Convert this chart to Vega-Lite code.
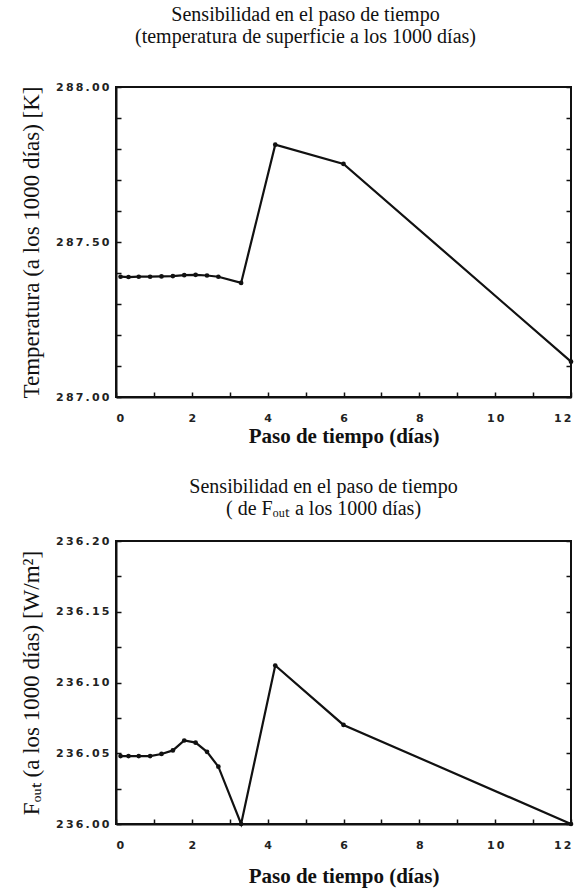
{
  "$schema": "https://vega.github.io/schema/vega-lite/v6.json",
  "background": "white",
  "padding": {"left": 19, "top": 4, "right": 1, "bottom": 4},
  "spacing": 29,
  "config": {
    "view": {"stroke": "#111", "strokeWidth": 2},
    "axis": {
      "grid": false,
      "domainColor": "#111",
      "domainWidth": 2,
      "tickColor": "#111",
      "tickWidth": 1.5,
      "tickSize": -5,
      "labelFont": "DejaVu Sans",
      "labelFontWeight": "bold",
      "labelFontSize": 11,
      "labelColor": "#222",
      "titleFont": "Liberation Serif",
      "titleColor": "#111"
    },
    "title": {
      "font": "Liberation Serif",
      "fontSize": 20,
      "fontWeight": "normal",
      "color": "#111",
      "subtitleFont": "Liberation Serif",
      "subtitleFontSize": 20,
      "subtitleColor": "#111",
      "subtitlePadding": 2
    }
  },
  "datasets": {
    "temperatura": [
      {"paso": 0.12, "valor": 287.388},
      {"paso": 0.33, "valor": 287.387},
      {"paso": 0.6, "valor": 287.388},
      {"paso": 0.9, "valor": 287.388},
      {"paso": 1.2, "valor": 287.389},
      {"paso": 1.5, "valor": 287.39},
      {"paso": 1.8, "valor": 287.393},
      {"paso": 2.1, "valor": 287.394},
      {"paso": 2.4, "valor": 287.392},
      {"paso": 2.7, "valor": 287.388},
      {"paso": 3.3, "valor": 287.368},
      {"paso": 4.2, "valor": 287.814},
      {"paso": 6, "valor": 287.752},
      {"paso": 12, "valor": 287.114}
    ],
    "fout": [
      {"paso": 0.12, "valor": 236.048},
      {"paso": 0.33, "valor": 236.048},
      {"paso": 0.6, "valor": 236.048},
      {"paso": 0.9, "valor": 236.048},
      {"paso": 1.2, "valor": 236.0495},
      {"paso": 1.5, "valor": 236.052},
      {"paso": 1.8, "valor": 236.059},
      {"paso": 2.1, "valor": 236.0575},
      {"paso": 2.4, "valor": 236.051},
      {"paso": 2.7, "valor": 236.0405},
      {"paso": 3.3, "valor": 236.0},
      {"paso": 4.2, "valor": 236.112},
      {"paso": 6, "valor": 236.07},
      {"paso": 12, "valor": 236.0}
    ]
  },
  "vconcat": [
    {
      "width": 455,
      "height": 310,
      "title": {
        "text": "Sensibilidad en el paso de tiempo",
        "subtitle": "(temperatura de superficie a los 1000 días)",
        "anchor": "middle",
        "dx": -38,
        "offset": 34
      },
      "data": {"name": "temperatura"},
      "encoding": {
        "x": {
          "field": "paso",
          "type": "quantitative",
          "scale": {"domain": [0, 12], "nice": false},
          "axis": {
            "values": [0, 1, 2, 3, 4, 5, 6, 7, 8, 9, 10, 11, 12],
            "labelExpr": "datum.value % 2 == 0 ? join(split(datum.label, ''), '\u2009') : ''",
            "labelPadding": 20,
            "title": "Paso de tiempo (días)",
            "titleFont": "Liberation Serif",
            "titleFontSize": 21,
            "titleFontWeight": "bold",
            "titlePadding": 2
          }
        }
      },
      "layer": [
        {
          "mark": {"type": "line", "color": "#111", "strokeWidth": 2.2},
          "encoding": {
            "y": {
              "field": "valor",
              "type": "quantitative",
              "scale": {"domain": [287, 288], "nice": false, "zero": false},
              "axis": {
                "values": [287, 287.1, 287.2, 287.3, 287.4, 287.5, 287.6, 287.7, 287.8, 287.9, 288],
                "labelExpr": "abs(datum.value * 2 - round(datum.value * 2)) < 1e-6 ? join(split(format(datum.value, '.2f'), ''), '\u2009') : ''",
                "labelPadding": 12,
                "title": "Temperatura (a los 1000 días) [K]",
                "titleFont": "Liberation Serif",
                "titleFontSize": 23,
                "titleFontWeight": "normal",
                "titlePadding": 12
              }
            }
          }
        },
        {
          "mark": {"type": "point", "filled": true, "color": "#111", "size": 22, "opacity": 1},
          "encoding": {
            "y": {
              "field": "valor",
              "type": "quantitative",
              "scale": {"domain": [287, 288], "nice": false, "zero": false},
              "axis": {
                "orient": "right",
                "values": [287, 287.1, 287.2, 287.3, 287.4, 287.5, 287.6, 287.7, 287.8, 287.9, 288],
                "labels": false,
                "domain": false,
                "title": null
              }
            }
          }
        }
      ],
      "resolve": {"axis": {"y": "independent"}}
    },
    {
      "width": 455,
      "height": 283,
      "title": {
        "text": "Sensibilidad en el paso de tiempo",
        "subtitle": "( de Fₒᵤₜ a los 1000 días)",
        "anchor": "middle",
        "dx": -20,
        "offset": 16
      },
      "data": {"name": "fout"},
      "encoding": {
        "x": {
          "field": "paso",
          "type": "quantitative",
          "scale": {"domain": [0, 12], "nice": false},
          "axis": {
            "values": [0, 1, 2, 3, 4, 5, 6, 7, 8, 9, 10, 11, 12],
            "labelExpr": "datum.value % 2 == 0 ? join(split(datum.label, ''), '\u2009') : ''",
            "labelPadding": 20,
            "title": "Paso de tiempo (días)",
            "titleFont": "Liberation Serif",
            "titleFontSize": 21,
            "titleFontWeight": "bold",
            "titlePadding": 15
          }
        }
      },
      "layer": [
        {
          "mark": {"type": "line", "color": "#111", "strokeWidth": 2.2},
          "encoding": {
            "y": {
              "field": "valor",
              "type": "quantitative",
              "scale": {"domain": [236, 236.2], "nice": false, "zero": false},
              "axis": {
                "values": [236, 236.025, 236.05, 236.075, 236.1, 236.125, 236.15, 236.175, 236.2],
                "labelExpr": "abs(datum.value * 20 - round(datum.value * 20)) < 1e-6 ? join(split(format(datum.value, '.2f'), ''), '\u2009') : ''",
                "labelPadding": 12,
                "title": "Fₒᵤₜ (a los 1000 días) [W/m²]",
                "titleFont": "Liberation Serif",
                "titleFontSize": 23,
                "titleFontWeight": "normal",
                "titlePadding": 12
              }
            }
          }
        },
        {
          "mark": {"type": "point", "filled": true, "color": "#111", "size": 22, "opacity": 1},
          "encoding": {
            "y": {
              "field": "valor",
              "type": "quantitative",
              "scale": {"domain": [236, 236.2], "nice": false, "zero": false},
              "axis": {
                "orient": "right",
                "values": [236, 236.025, 236.05, 236.075, 236.1, 236.125, 236.15, 236.175, 236.2],
                "labels": false,
                "domain": false,
                "title": null
              }
            }
          }
        }
      ],
      "resolve": {"axis": {"y": "independent"}}
    }
  ]
}
